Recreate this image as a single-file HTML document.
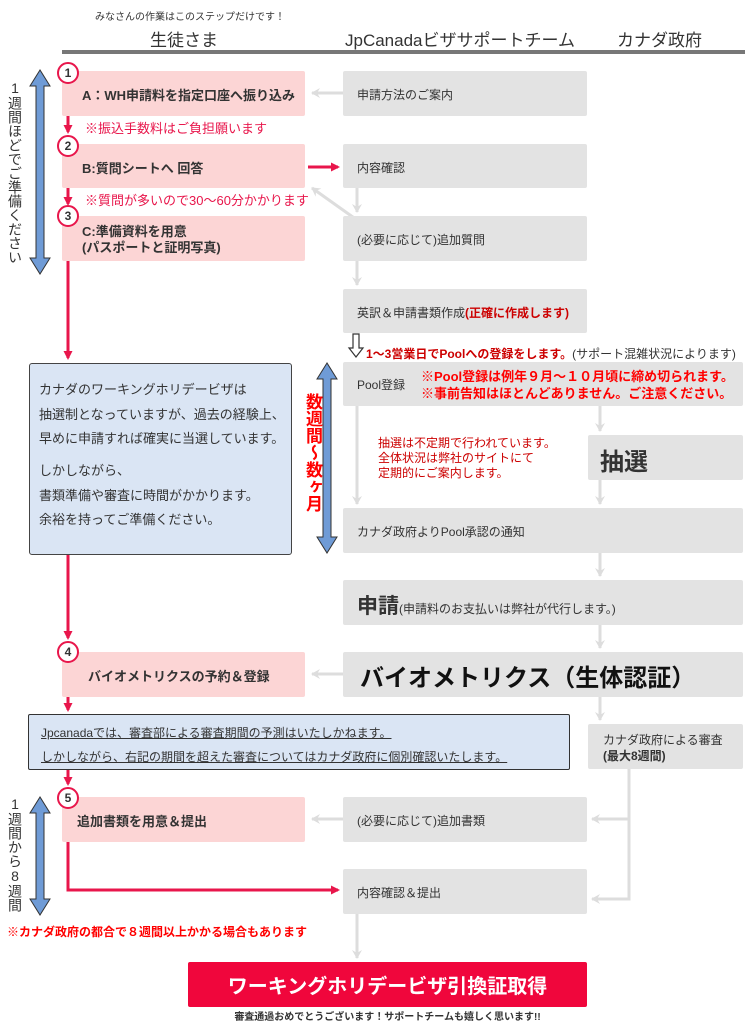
<!DOCTYPE html>
<html><head><meta charset="utf-8">
<style>
body{margin:0;width:750px;height:1021px;background:#fff;position:relative;overflow:hidden;font-family:"Liberation Sans","Noto Sans CJK JP",sans-serif;color:#333}
.a{position:absolute;white-space:nowrap}
.p{position:absolute;background:#fcd5d5;border-radius:2px}
.g{position:absolute;background:#e3e3e3;border-radius:2px}
.t{position:absolute;font-size:12px;color:#333;white-space:nowrap}
.b{font-weight:bold}
.r{color:#e8164b}
.vr{writing-mode:vertical-rl;text-orientation:upright;position:absolute;white-space:nowrap}
</style></head><body>
<svg width="750" height="1021" style="position:absolute;left:0;top:0">
<defs>
<marker id="ar" markerWidth="9" markerHeight="9" refX="7" refY="4.5" orient="auto" markerUnits="userSpaceOnUse"><path d="M0,0 L9,4.5 L0,9z" fill="#e8164b"/></marker>
<marker id="ag" markerWidth="10" markerHeight="10" refX="8" refY="5" orient="auto" markerUnits="userSpaceOnUse"><path d="M0,0 L9,5 L0,10 L3,5z" fill="#ddd"/></marker>
</defs>
<rect x="62" y="50" width="683" height="4" fill="#777"/>
<g stroke="#ddd" stroke-width="3" fill="none">
<line x1="343" y1="93" x2="312" y2="93" marker-end="url(#ag)"/>
<line x1="357" y1="188" x2="357" y2="212" marker-end="url(#ag)"/>
<line x1="357" y1="220" x2="312" y2="188" marker-end="url(#ag)"/>
<line x1="357" y1="261" x2="357" y2="285" marker-end="url(#ag)"/>
<line x1="357" y1="406" x2="357" y2="504" marker-end="url(#ag)"/>
<line x1="600" y1="406" x2="600" y2="431" marker-end="url(#ag)"/>
<line x1="600" y1="480" x2="600" y2="504" marker-end="url(#ag)"/>
<line x1="600" y1="553" x2="600" y2="576" marker-end="url(#ag)"/>
<line x1="600" y1="625" x2="600" y2="648" marker-end="url(#ag)"/>
<line x1="343" y1="674" x2="312" y2="674" marker-end="url(#ag)"/>
<line x1="600" y1="697" x2="600" y2="720" marker-end="url(#ag)"/>
<polyline points="629,769 629,899 592,899" marker-end="url(#ag)"/>
<line x1="629" y1="819" x2="592" y2="819" marker-end="url(#ag)"/>
<line x1="343" y1="819" x2="312" y2="819" marker-end="url(#ag)"/>
<line x1="357" y1="914" x2="357" y2="958" marker-end="url(#ag)"/>
</g>
<path d="M353,334 h6 v14 h4 l-7,9 l-7,-9 h4z" fill="#fff" stroke="#333" stroke-width="1.2"/>
<g stroke="#e8164b" stroke-width="3" fill="none">
<line x1="68" y1="84" x2="68" y2="132" marker-end="url(#ar)"/>
<line x1="68" y1="156" x2="68" y2="204" marker-end="url(#ar)"/>
<line x1="68" y1="226" x2="68" y2="358" marker-end="url(#ar)"/>
<line x1="68" y1="555" x2="68" y2="638" marker-end="url(#ar)"/>
<line x1="68" y1="663" x2="68" y2="710" marker-end="url(#ar)"/>
<line x1="68" y1="768" x2="68" y2="784" marker-end="url(#ar)"/>
<polyline points="68,808 68,890 338,890" marker-end="url(#ar)"/>
<line x1="308" y1="167" x2="338" y2="167" marker-end="url(#ar)"/>
</g>
<g fill="#6f9bd6" stroke="#333" stroke-width="1">
<path d="M40,70 l-10,16 h6 v172 h-6 l10,16 l10,-16 h-6 v-172 h6z"/>
<path d="M327,363 l-10,16 h6 v158 h-6 l10,16 l10,-16 h-6 v-158 h6z"/>
<path d="M40,797 l-10,16 h6 v86 h-6 l10,16 l10,-16 h-6 v-86 h6z"/>
</g>
</svg>

<div class="a" style="left:95px;top:8px;font-size:10px">みなさんの作業はこのステップだけです！</div>
<div class="a" style="left:150px;top:26px;font-size:17px">生徒さま</div>
<div class="a" style="left:345px;top:26px;font-size:17px">JpCanadaビザサポートチーム</div>
<div class="a" style="left:617px;top:26px;font-size:17px">カナダ政府</div>

<div class="vr" style="left:5px;top:80px;font-size:14px">1週間ほどでご準備ください</div>
<div class="vr" style="left:5px;top:796px;font-size:14px">1週間から8週間</div>
<div class="vr b" style="left:300px;top:393px;font-size:17px;color:#f00">数週間～数ヶ月</div>

<div class="p" style="left:62px;top:71px;width:243px;height:45px"></div>
<div class="t b" style="left:82px;top:85px;font-size:13px">A：WH申請料を指定口座へ振り込み</div>
<div class="t r" style="left:85px;top:118px;font-size:13px">※振込手数料はご負担願います</div>
<div class="p" style="left:62px;top:144px;width:243px;height:44px"></div>
<div class="t b" style="left:82px;top:158px;font-size:13px">B:質問シートへ 回答</div>
<div class="t r" style="left:85px;top:190px;font-size:13px">※質問が多いので30～60分かかります</div>
<div class="p" style="left:62px;top:216px;width:243px;height:45px"></div>
<div class="t b" style="left:82px;top:224px;line-height:16px;font-size:13px">C:準備資料を用意<br>(パスポートと証明写真)</div>

<div class="g" style="left:343px;top:71px;width:244px;height:45px"></div>
<div class="t" style="left:357px;top:86px">申請方法のご案内</div>
<div class="g" style="left:343px;top:144px;width:244px;height:44px"></div>
<div class="t" style="left:357px;top:159px">内容確認</div>
<div class="g" style="left:343px;top:216px;width:244px;height:45px"></div>
<div class="t" style="left:357px;top:231px">(必要に応じて)追加質問</div>
<div class="g" style="left:343px;top:289px;width:244px;height:44px"></div>
<div class="t" style="left:357px;top:304px">英訳＆申請書類作成<span class="b" style="color:#c00">(正確に作成します)</span></div>
<div class="t" style="left:366px;top:345px;font-size:12px"><span class="b" style="color:#c00">1～3営業日でPoolへの登録をします。</span>(サポート混雑状況によります)</div>
<div class="g" style="left:343px;top:362px;width:400px;height:44px"></div>
<div class="t" style="left:357px;top:376px">Pool登録</div>
<div class="t b" style="left:421px;top:368px;color:#f00;font-size:13px;line-height:17px">※Pool登録は例年９月～１０月頃に締め切られます。<br>※事前告知はほとんどありません。ご注意ください。</div>
<div class="t" style="left:378px;top:436px;color:#c00;line-height:15px">抽選は不定期で行われています。<br>全体状況は弊社のサイトにて<br>定期的にご案内します。</div>
<div class="g" style="left:588px;top:435px;width:155px;height:45px"></div>
<div class="a b" style="left:600px;top:442px;font-size:24px">抽選</div>
<div class="g" style="left:343px;top:508px;width:400px;height:45px"></div>
<div class="t" style="left:357px;top:523px">カナダ政府よりPool承認の通知</div>
<div class="g" style="left:343px;top:580px;width:400px;height:45px"></div>
<div class="a" style="left:357px;top:590px;font-size:12px"><span class="b" style="font-size:21px">申請</span>(申請料のお支払いは弊社が代行します。)</div>

<div style="position:absolute;left:29px;top:363px;width:261px;height:190px;background:#dae5f4;border:1px solid #444;border-radius:3px"></div>
<div class="t" style="left:39px;top:378px;font-size:13px;line-height:24.5px">カナダのワーキングホリデービザは<br>抽選制となっていますが、過去の経験上、<br>早めに申請すれば確実に当選しています。</div>
<div class="t" style="left:39px;top:459px;font-size:13px;line-height:24.5px">しかしながら、<br>書類準備や審査に時間がかかります。<br>余裕を持ってご準備ください。</div>

<div class="p" style="left:62px;top:652px;width:243px;height:45px"></div>
<div class="t b" style="left:88px;top:666px;font-size:13px">バイオメトリクスの予約＆登録</div>
<div class="g" style="left:343px;top:652px;width:400px;height:45px"></div>
<div class="a b" style="left:360px;top:658px;font-size:24px;color:#111">バイオメトリクス（生体認証）</div>

<div style="position:absolute;left:28px;top:714px;width:540px;height:54px;background:#dae5f4;border:1px solid #333;border-radius:2px"></div>
<div class="t" style="left:41px;top:721px;line-height:24px;text-decoration:underline">Jpcanadaでは、審査部による審査期間の予測はいたしかねます。<br>しかしながら、右記の期間を超えた審査についてはカナダ政府に個別確認いたします。</div>
<div class="g" style="left:588px;top:724px;width:155px;height:45px"></div>
<div class="t" style="left:603px;top:732px;line-height:16px">カナダ政府による審査<br><b>(最大8週間)</b></div>

<div class="p" style="left:62px;top:797px;width:243px;height:45px"></div>
<div class="t b" style="left:77px;top:811px;font-size:13px">追加書類を用意＆提出</div>
<div class="g" style="left:343px;top:797px;width:244px;height:45px"></div>
<div class="t" style="left:357px;top:812px">(必要に応じて)追加書類</div>
<div class="g" style="left:343px;top:869px;width:244px;height:45px"></div>
<div class="t" style="left:357px;top:884px">内容確認＆提出</div>
<div class="t b" style="left:7px;top:923px;color:#f00">※カナダ政府の都合で８週間以上かかる場合もあります</div>

<div style="position:absolute;left:188px;top:962px;width:399px;height:45px;background:#f0063c;border-radius:2px"></div>
<div class="a b" style="left:188px;width:399px;text-align:center;top:970px;font-size:20px;color:#fff">ワーキングホリデービザ引換証取得</div>
<div class="a b" style="left:188px;width:399px;text-align:center;top:1008px;font-size:10px">審査通過おめでとうございます！サポートチームも嬉しく思います!!</div>

<div style="position:absolute;left:57px;top:62px;width:18px;height:18px;border:2px solid #e8164b;border-radius:50%;background:#fff;font-size:12px;font-weight:bold;text-align:center;line-height:18px">1</div>
<div style="position:absolute;left:57px;top:135px;width:18px;height:18px;border:2px solid #e8164b;border-radius:50%;background:#fff;font-size:12px;font-weight:bold;text-align:center;line-height:18px">2</div>
<div style="position:absolute;left:57px;top:205px;width:18px;height:18px;border:2px solid #e8164b;border-radius:50%;background:#fff;font-size:12px;font-weight:bold;text-align:center;line-height:18px">3</div>
<div style="position:absolute;left:57px;top:641px;width:18px;height:18px;border:2px solid #e8164b;border-radius:50%;background:#fff;font-size:12px;font-weight:bold;text-align:center;line-height:18px">4</div>
<div style="position:absolute;left:57px;top:787px;width:18px;height:18px;border:2px solid #e8164b;border-radius:50%;background:#fff;font-size:12px;font-weight:bold;text-align:center;line-height:18px">5</div>
</body></html>
